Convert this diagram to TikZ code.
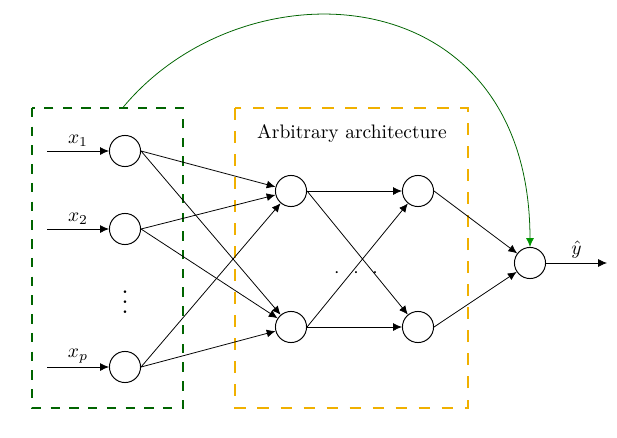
\documentclass[tikz,border=0pt]{standalone}
\usepackage{amsmath,amssymb,amsfonts}
\usepackage{xcolor}
\usepackage{tikz}
\usetikzlibrary{arrows.meta}
\definecolor{boxgreen}{RGB}{0,100,0}
\definecolor{tipgreen}{RGB}{0,150,0}
\definecolor{boxorange}{RGB}{240,176,0}

\begin{document}
\begin{tikzpicture}[x=0.018cm,y=-0.018cm,
  neuron/.style={draw,circle,minimum size=0.56cm,inner sep=0pt,line width=0.5pt},
  edge/.style={-{Latex[length=4.5pt,width=4pt]}},
  lab/.style={above,inner sep=2pt}]
\useasboundingbox (0,0) rectangle (617,438);
\draw [boxgreen,line width=1.1pt,dash pattern=on 4.8pt off 4.8pt] (32,108) rectangle (183,408);
\draw [boxorange,line width=1.2pt,dash pattern=on 6pt off 5.8pt] (235,108) rectangle (468,408);
\node (title) at (352,134) {Arbitrary architecture};
\node [neuron] (i1) at (125,151) {};
\node [neuron] (i2) at (125,229) {};
\node [neuron] (ip) at (125,367) {};
\node [scale=1.28] (vd) at (125,295) {$\vdots$};
\node [neuron] (h1) at (291,191) {};
\node [neuron] (h2) at (291,327) {};
\node [neuron] (g1) at (418,191) {};
\node [neuron] (g2) at (418,327) {};
\node [neuron] (o) at (530,263) {};
\node (dd) at (356,273) {$\cdot$\hspace{7pt}$\cdot$\hspace{7pt}$\cdot$};
\coordinate (s1) at (47,151);
\coordinate (s2) at (47,229);
\coordinate (sp) at (47,367);
\coordinate (e) at (607,263);
\coordinate (gtop) at (122.5,108);
\draw [edge] (s1) -- node[lab] {$x_1$} (i1);
\draw [edge] (s2) -- node[lab] {$x_2$} (i2);
\draw [edge] (sp) -- node[lab] {$x_p$} (ip);
\draw [edge] (i1.east) -- (h1);
\draw [edge] (i1.east) -- (h2);
\draw [edge] (i2.east) -- (h1);
\draw [edge] (i2.east) -- (h2);
\draw [edge] (ip.east) -- (h1);
\draw [edge] (ip.east) -- (h2);
\draw [edge] (h1.east) -- (g1);
\draw [edge] (h1.east) -- (g2);
\draw [edge] (h2.east) -- (g1);
\draw [edge] (h2.east) -- (g2);
\draw [edge] (g1.east) -- (o);
\draw [edge] (g2.east) -- (o);
\draw [edge] (o) -- node[lab] {$\hat{y}$} (e);
\draw [boxgreen,-{Latex[length=4.5pt,width=4pt,color=tipgreen]}] (gtop) .. controls +(122,-148) and +(0,-272) .. (o.north);
\end{tikzpicture}
\end{document}
